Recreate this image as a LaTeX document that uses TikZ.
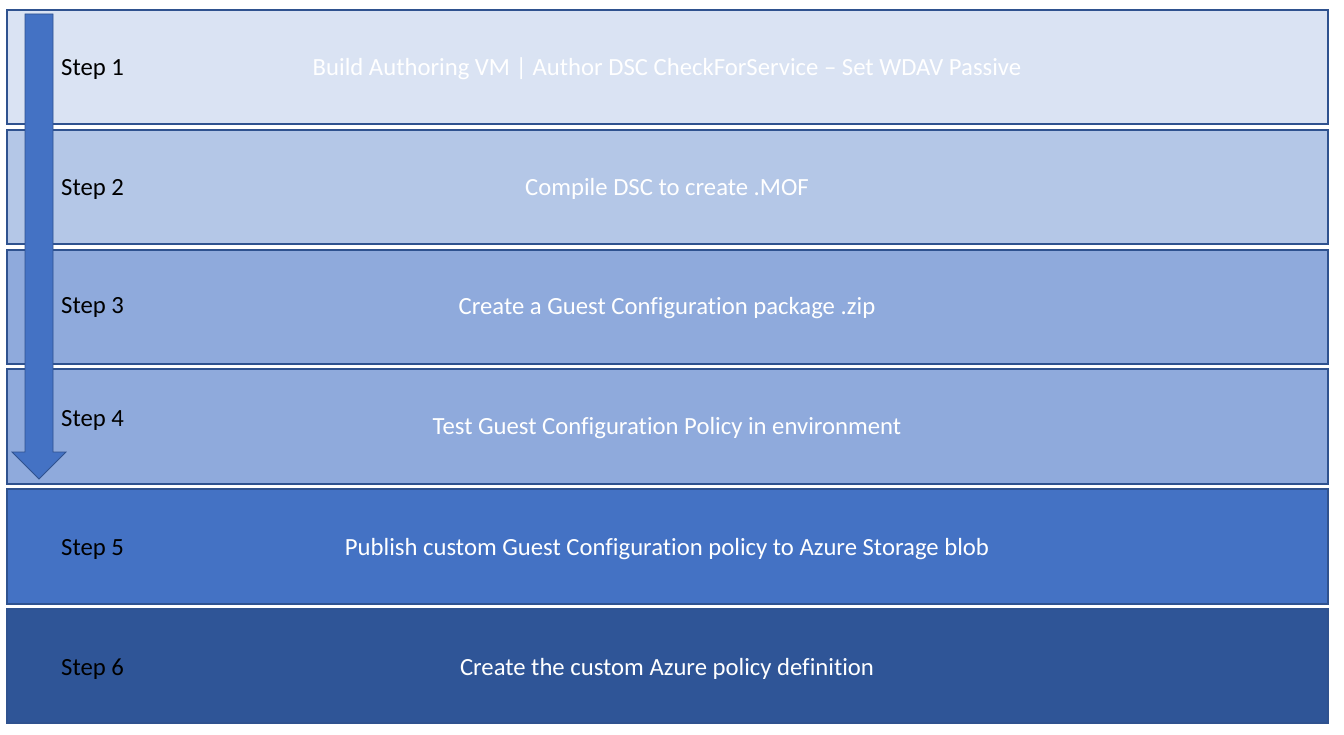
\documentclass[tikz,border=0pt]{standalone}
\usepackage{fontspec}
\setmainfont{Carlito}[Ligatures={NoCommon,NoRare,NoContextual}]
\definecolor{r1}{HTML}{DAE3F3}
\definecolor{r2}{HTML}{B4C7E7}
\definecolor{r3}{HTML}{8FAADC}
\definecolor{r5}{HTML}{4472C4}
\definecolor{r6}{HTML}{2F5597}
\definecolor{edge}{HTML}{2F528F}
\begin{document}
\begin{tikzpicture}[x=1pt,y=-1pt,
  band/.style={draw=edge,line width=1.2pt},
  steplbl/.style={anchor=west,font=\fontsize{24.7}{27}\selectfont,text=black,inner sep=0pt},
  maintxt/.style={font=\fontsize{24.7}{27}\selectfont,text=white,inner sep=0pt}]
\useasboundingbox (0,0) rectangle (1344,735);
\fill[white] (0,0) rectangle (1344,735);
\foreach \i/\t/\b/\c in {1/10/124/r1,2/130/244/r2,3/250/364/r3,4/369/484/r3,5/489/604/r5,6/609/723/r6}{
  \filldraw[band,fill=\c] (7,\t) rectangle (1328,\b);
}
\node[maintxt] (t1) at (667,69) {Build Authoring VM | Author DSC CheckForService – Set WDAV Passive};
\node[maintxt] (t2) at (667,189) {Compile DSC to create .MOF};
\node[maintxt] (t3) at (667,308) {Create a Guest Configuration package .zip};
\node[maintxt] (t4) at (667,428) {Test Guest Configuration Policy in environment};
\node[maintxt] (t5) at (667,549) {Publish custom Guest Configuration policy to Azure Storage blob};
\node[maintxt] (t6) at (667,669) {Create the custom Azure policy definition};
\filldraw[fill=r5,draw=edge,line width=0.8pt] (25,14) -- (53,14) -- (53,452) -- (66,452) -- (39,479) -- (12,452) -- (25,452) -- cycle;
\node[steplbl] (s1) at (61,69) {Step 1};
\node[steplbl] (s2) at (61,189) {Step 2};
\node[steplbl] (s3) at (61,307) {Step 3};
\node[steplbl] (s4) at (61,420) {Step 4};
\node[steplbl] (s5) at (61,549) {Step 5};
\node[steplbl] (s6) at (61,669) {Step 6};
\end{tikzpicture}
\end{document}
